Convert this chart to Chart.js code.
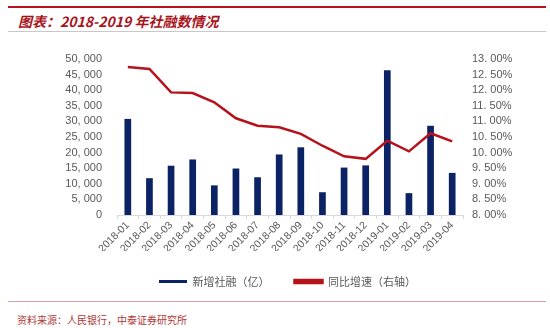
<!DOCTYPE html>
<html>
<head>
<meta charset="utf-8">
<script src="https://cdn.jsdelivr.net/npm/chart.js@4"></script>
<style>
    body { margin: 0; background: #fff; width: 550px; height: 328px; overflow: hidden; position: relative; font-family: "Noto Sans CJK SC", sans-serif; }
    .top-line { position: absolute; left: 8px; right: 4px; top: 6px; height: 2px; background: #b5141c; }
    .title { position: absolute; left: 18px; top: 11px; font-size: 14px; font-weight: bold; font-style: italic; color: #a8141b; white-space: nowrap; }
    .title-line { position: absolute; left: 8px; right: 4px; top: 31px; height: 1px; background: #c8c8c8; }
    .foot-line { position: absolute; left: 8px; right: 4px; top: 301px; height: 1px; background: #d9a0a0; }
    .source { position: absolute; left: 17px; top: 312px; font-size: 10px; color: #b03838; white-space: nowrap; }
    .wrap { position: absolute; left: 0; top: 0; width: 550px; height: 297px; }
</style>
</head>
<body>
<div class="top-line"></div>
<div class="title">图表：2018-2019 年社融数情况</div>
<div class="title-line"></div>
<div class="foot-line"></div>
<div class="source">资料来源：人民银行，中泰证券研究所</div>
<div class="wrap"><canvas id="chart"></canvas></div>

<script>
// monthly figures
var months = ["2018-01", "2018-02", "2018-03", "2018-04", "2018-05", "2018-06", "2018-07", "2018-08",
    "2018-09", "2018-10", "2018-11", "2018-12", "2019-01", "2019-02", "2019-03", "2019-04"];
var newTsf = [30800, 11800, 15800, 17800, 9500, 14900, 12100, 19400,
    21700, 7300, 15200, 15900, 46400, 7000, 28600, 13500];
var yoyGrowth = [12.74, 12.68, 11.93, 11.91, 11.61, 11.10, 10.86, 10.81,
    10.60, 10.22, 9.88, 9.80, 10.38, 10.04, 10.62, 10.36];

var NAVY = "#0b2365";
var RED = "#b5121b";
var TEXT = "#595959";

function withComma(v) {
    var s = String(v);
    if (s.length > 3) {
        s = s.slice(0, s.length - 3) + ", " + s.slice(s.length - 3);
    }
    return s;
}

var ctx = document.getElementById("chart");
var myChart = new Chart(ctx, {
    type: "bar",
    data: {
        labels: months,
        datasets: [{
            label: "新增社融（亿）",
            data: newTsf,
            backgroundColor: NAVY,
            borderWidth: 0,
            barPercentage: 0.31,
            categoryPercentage: 1,
            yAxisID: "y",
            order: 2
        }, {
            type: "line",
            label: "同比增速（右轴）",
            data: yoyGrowth,
            borderColor: RED,
            backgroundColor: RED,
            borderWidth: 2.5,
            pointRadius: 0,
            tension: 0,
            fill: false,
            yAxisID: "y1",
            order: 1
        }]
    },
    options: {
        responsive: true,
        maintainAspectRatio: false,
        animation: false,
        layout: {
            // left padding shifts the legend under the plot
            padding: { top: 59, left: 25, right: 0, bottom: 0 }
        },
        plugins: {
            tooltip: { enabled: false },
            legend: {
                position: "bottom",
                labels: {
                    boxWidth: 28,
                    boxHeight: 3,
                    padding: 25,
                    color: TEXT,
                    font: { family: "Noto Sans CJK SC", size: 11 },
                    // keep the bar series first
                    sort: function(a, b) { return a.datasetIndex - b.datasetIndex; }
                }
            }
        },
        scales: {
            x: {
                offset: true,
                grid: {
                    display: true,
                    offset: true,
                    drawOnChartArea: false,
                    drawTicks: true,
                    tickLength: 4,
                    color: "#d9d9d9"
                },
                border: { color: "#d9d9d9" },
                ticks: {
                    minRotation: 45,
                    maxRotation: 45,
                    autoSkip: false,
                    padding: 0,
                    color: TEXT,
                    font: { family: "Liberation Sans", size: 10.5 }
                },
                afterFit: function(scale) { scale.height = 36; }
            },
            y: {
                position: "left",
                min: 0,
                max: 50000,
                grid: { display: false, drawTicks: false },
                border: { display: false },
                ticks: {
                    stepSize: 5000,
                    autoSkip: false,
                    padding: 15,
                    color: TEXT,
                    font: { family: "Liberation Sans", size: 11 },
                    callback: function(v) { return withComma(v); }
                },
                afterFit: function(scale) { scale.width = 92; }
            },
            y1: {
                position: "right",
                min: 8,
                max: 13,
                grid: { display: false, drawTicks: false },
                border: { display: false },
                ticks: {
                    stepSize: 0.5,
                    autoSkip: false,
                    padding: 9,
                    color: TEXT,
                    font: { family: "Liberation Sans", size: 11 },
                    callback: function(v) {
                        var s = v.toFixed(2).split(".");
                        return s[0] + ". " + s[1] + "%";
                    }
                },
                afterFit: function(scale) { scale.width = 87; }
            }
        }
    }
});
</script>
</body>
</html>
